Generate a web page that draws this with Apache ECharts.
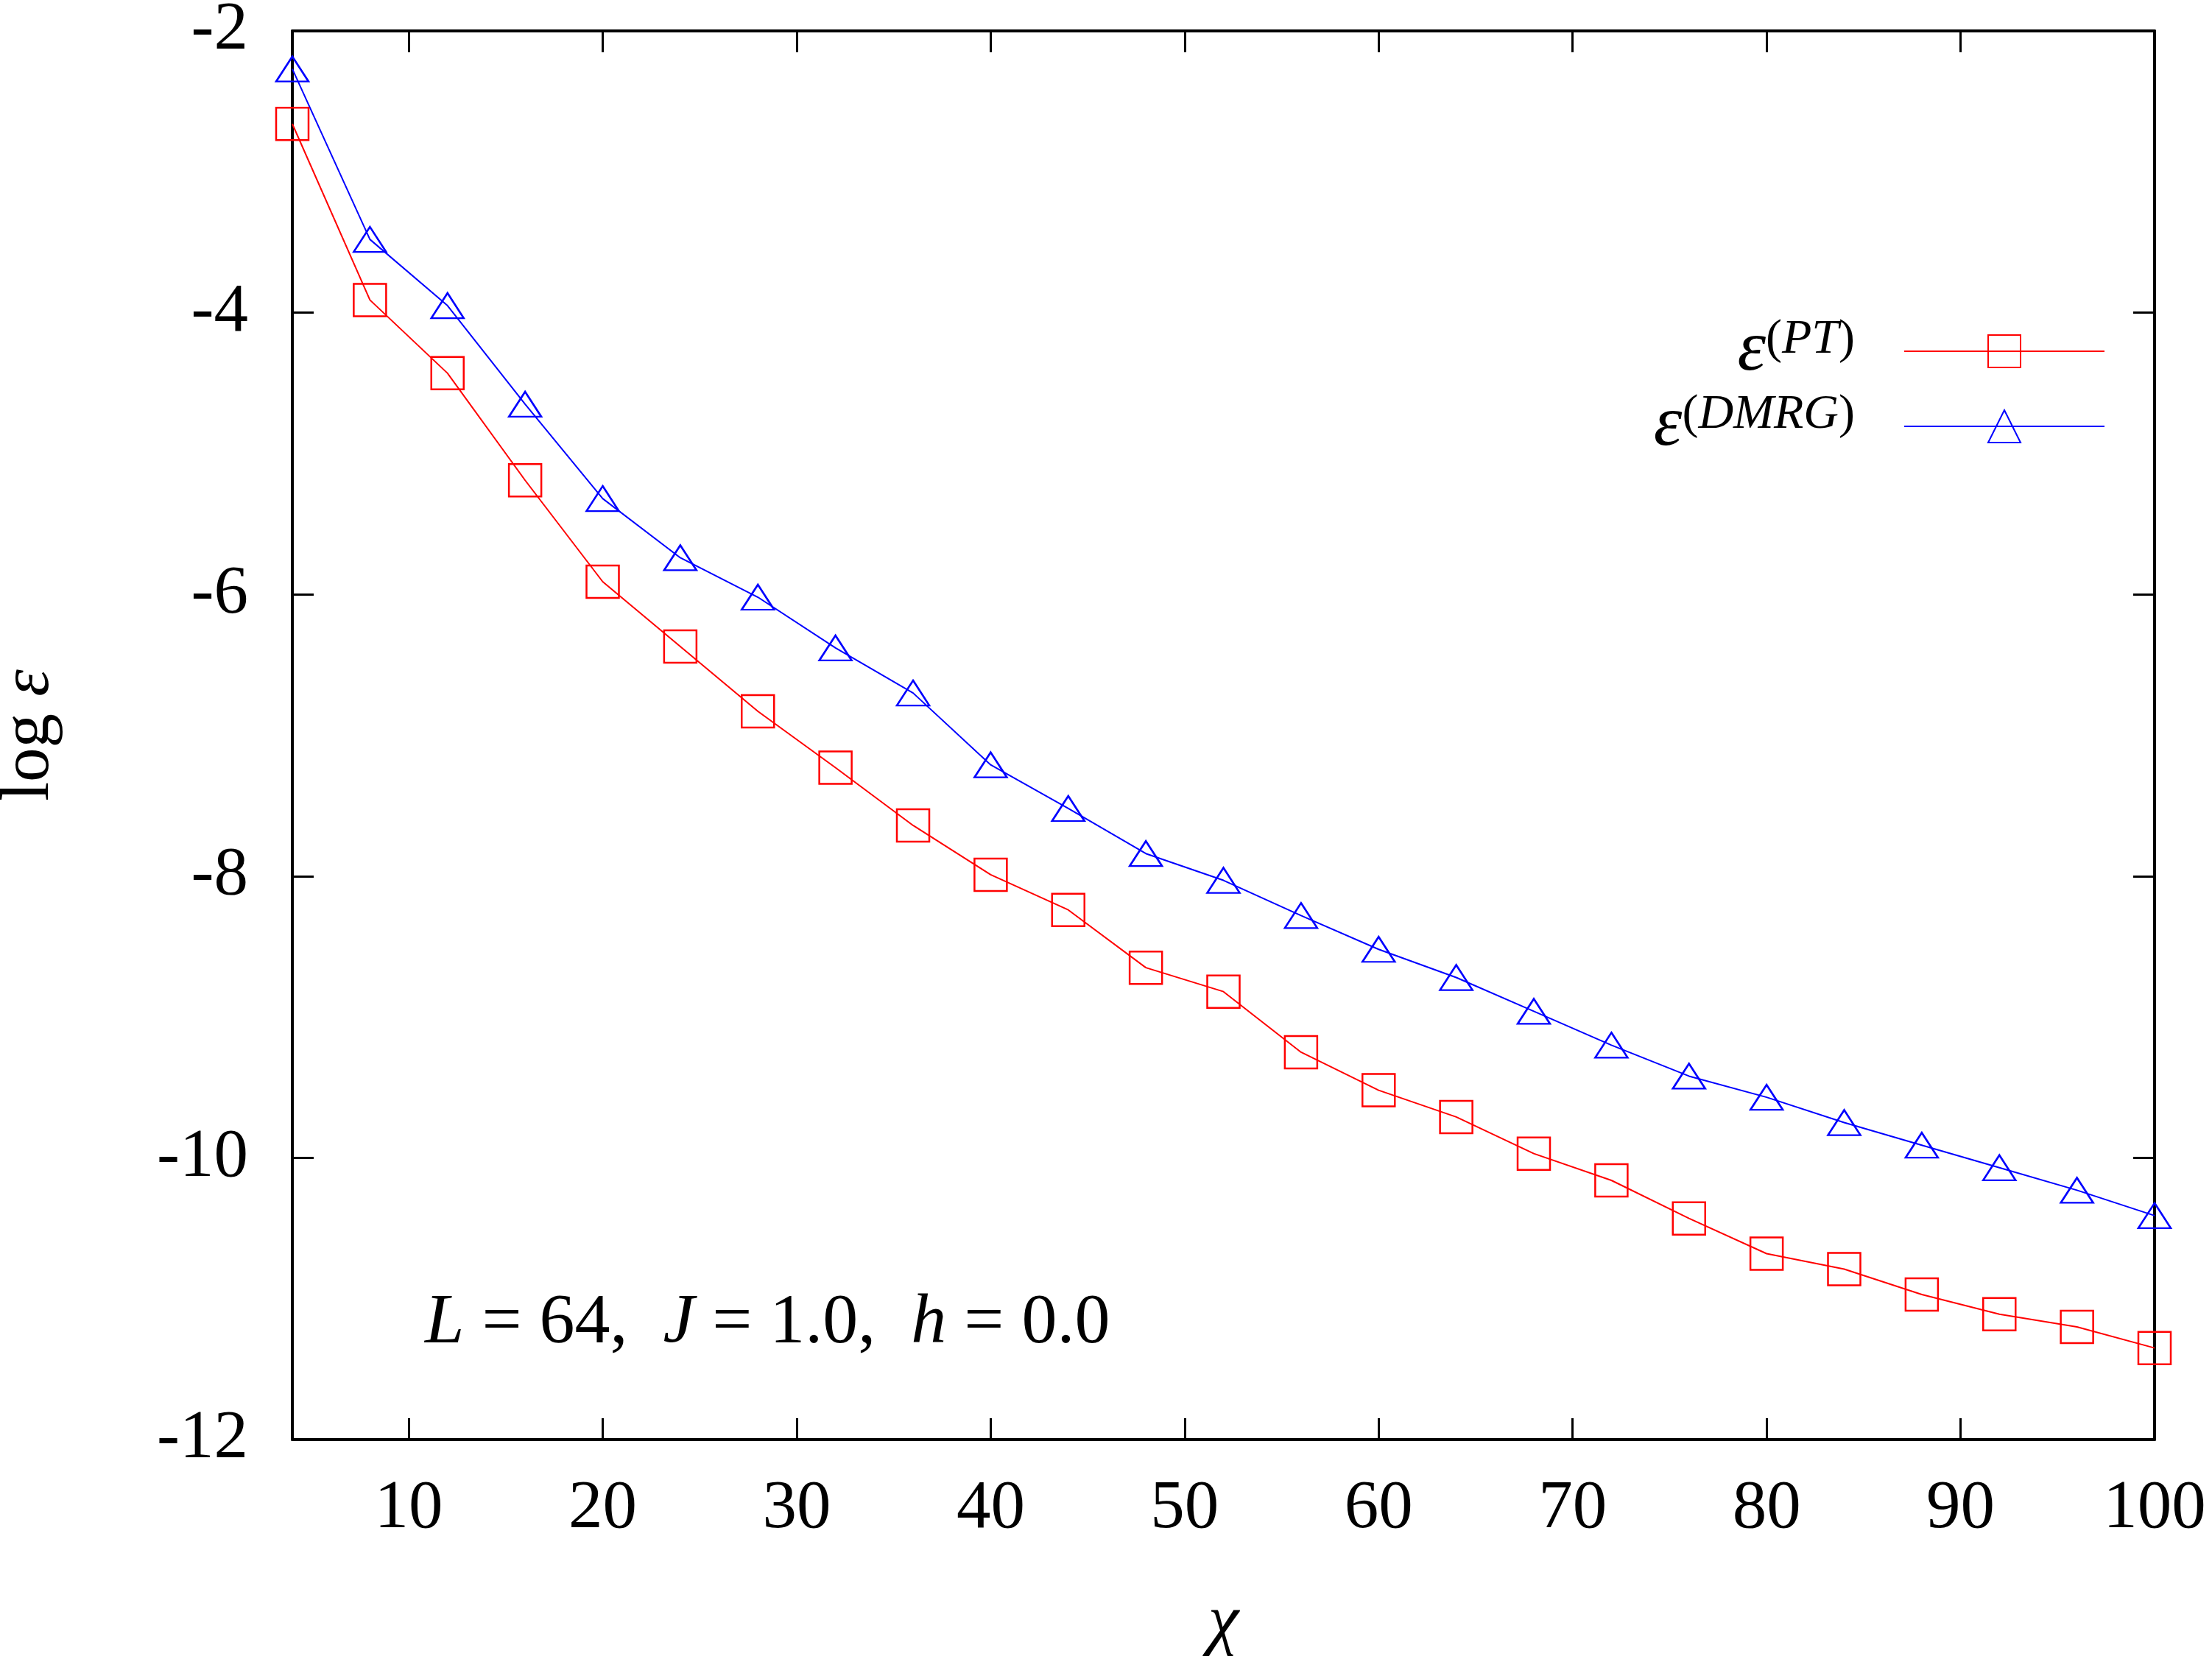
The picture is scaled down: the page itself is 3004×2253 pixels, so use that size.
<!DOCTYPE html>
<html>
<head>
<meta charset="utf-8">
<script src="https://cdn.jsdelivr.net/npm/echarts@6/dist/echarts.min.js"></script>
<style>
html, body { margin: 0; padding: 0; background: #fff; }
#main { width: 3004px; height: 2253px; }
</style>
</head>
<body>
<div id="main"></div>
<script>
// bond dimension chi
var chiValues = [4, 8, 12, 16, 20, 24, 28, 32, 36, 40, 44, 48, 52, 56, 60, 64, 68, 72, 76, 80, 84, 88, 92, 96, 100];
// log of the error, perturbation theory estimate
var ptValues = [-2.66, -3.91, -4.43, -5.19, -5.91, -6.37, -6.83, -7.23, -7.64, -7.99, -8.24, -8.65, -8.82, -9.25, -9.52, -9.71, -9.97, -10.16, -10.43, -10.68, -10.79, -10.97, -11.11, -11.20, -11.35];
// log of the error, DMRG truncation
var dmrgValues = [-2.27, -3.48, -3.95, -4.65, -5.32, -5.74, -6.02, -6.38, -6.70, -7.21, -7.52, -7.84, -8.03, -8.28, -8.52, -8.72, -8.96, -9.20, -9.42, -9.57, -9.75, -9.91, -10.07, -10.23, -10.41];
var xTicks = [10, 20, 30, 40, 50, 60, 70, 80, 90, 100];

var FONT = 'Liberation Serif';

var pairs = function (xs, ys) {
    var res = [];
    for (var i = 0; i < xs.length; i++) {
        res.push([xs[i], ys[i]]);
    }
    return res;
};

var myChart = echarts.init(document.getElementById('main'));

var frameLine = { show: true, onZero: false, lineStyle: { color: '#000', width: 4 } };
var innerTick = { show: true, inside: true, length: 29, lineStyle: { color: '#000', width: 3 } };

option = {
    backgroundColor: '#fff',
    animation: false,
    grid: {
        left: 397,
        right: 78,
        top: 42,
        bottom: 298,
        outerBoundsMode: 'none'
    },
    legend: {
        orient: 'vertical',
        align: 'right',
        right: 140,
        top: 422,
        itemWidth: 272,
        itemHeight: 55,
        itemGap: 4,
        selectedMode: false,
        data: ['PT', 'DMRG'],
        formatter: function (name) {
            return '{e|ε}{p|(}{s|' + name + '}{p|)}';
        },
        textStyle: {
            color: '#000',
            padding: [0, 62, 0, 0],
            rich: {
                e: { fontFamily: FONT, fontStyle: 'italic', fontSize: 98, lineHeight: 96, verticalAlign: 'bottom', color: '#000' },
                p: { fontFamily: FONT, fontSize: 66, lineHeight: 66, verticalAlign: 'top', color: '#000' },
                s: { fontFamily: FONT, fontStyle: 'italic', fontSize: 66, lineHeight: 66, verticalAlign: 'top', color: '#000' }
            }
        }
    },
    xAxis: [
        {
            type: 'value',
            position: 'bottom',
            min: 4,
            max: 100,
            name: 'χ',
            nameLocation: 'middle',
            nameGap: 202,
            nameTextStyle: { fontFamily: FONT, fontStyle: 'italic', fontSize: 94, color: '#000' },
            axisLine: frameLine,
            axisTick: Object.assign({ customValues: xTicks }, innerTick),
            axisLabel: { customValues: xTicks, margin: 48, fontFamily: FONT, fontSize: 93, color: '#000' },
            splitLine: { show: false }
        },
        {
            type: 'value',
            position: 'top',
            min: 4,
            max: 100,
            axisLine: frameLine,
            axisTick: Object.assign({ customValues: xTicks }, innerTick),
            axisLabel: { show: false },
            splitLine: { show: false }
        }
    ],
    yAxis: [
        {
            type: 'value',
            position: 'left',
            min: -12,
            max: -2,
            interval: 2,
            name: '{n|log }{e|ε}',
            nameLocation: 'middle',
            nameGap: 310,
            nameTextStyle: {
                rich: {
                    n: { fontFamily: FONT, fontSize: 93, color: '#000' },
                    e: { fontFamily: FONT, fontStyle: 'italic', fontSize: 93, color: '#000' }
                }
            },
            axisLine: frameLine,
            axisTick: innerTick,
            axisLabel: { margin: 60, fontFamily: FONT, fontSize: 93, color: '#000' },
            splitLine: { show: false }
        },
        {
            type: 'value',
            position: 'right',
            min: -12,
            max: -2,
            interval: 2,
            axisLine: frameLine,
            axisTick: innerTick,
            axisLabel: { show: false },
            splitLine: { show: false }
        }
    ],
    graphic: [
        {
            type: 'text',
            left: 577,
            top: 1750,
            style: {
                text: '{i|L} = 64,  {i|J} = 1.0,  {i|h} = 0.0',
                fontFamily: FONT,
                fontSize: 96,
                fill: '#000',
                rich: {
                    i: { fontFamily: FONT, fontStyle: 'italic', fontSize: 96 }
                }
            }
        }
    ],
    series: [
        {
            name: 'PT',
            type: 'line',
            xAxisIndex: 0,
            yAxisIndex: 0,
            data: pairs(chiValues, ptValues),
            symbol: 'rect',
            symbolSize: 44,
            lineStyle: { color: '#ff0000', width: 2 },
            itemStyle: { color: 'rgba(255,255,255,0)', borderColor: '#ff0000', borderWidth: 2.5 },
            emphasis: { disabled: true }
        },
        {
            name: 'DMRG',
            type: 'line',
            xAxisIndex: 0,
            yAxisIndex: 0,
            data: pairs(chiValues, dmrgValues),
            symbol: 'triangle',
            symbolSize: [44, 34],
            lineStyle: { color: '#0000ff', width: 2 },
            itemStyle: { color: 'rgba(255,255,255,0)', borderColor: '#0000ff', borderWidth: 2.5 },
            emphasis: { disabled: true }
        }
    ]
};

myChart.setOption(option);
</script>
</body>
</html>
